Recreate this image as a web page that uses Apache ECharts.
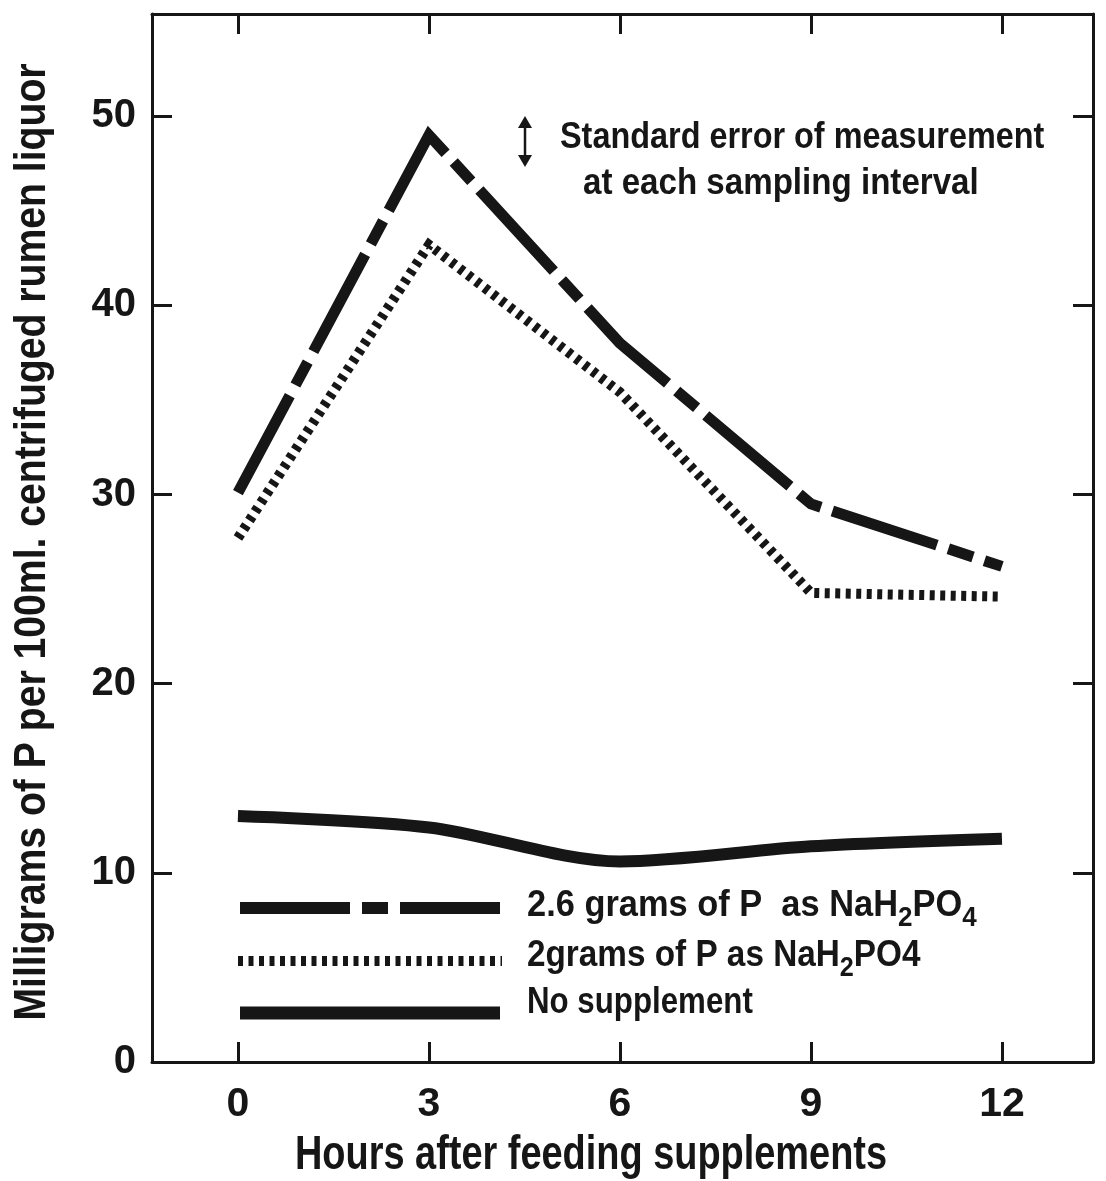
<!DOCTYPE html>
<html>
<head>
<meta charset="utf-8">
<script src="https://cdn.jsdelivr.net/npm/echarts@6/dist/echarts.min.js"></script>
<style>
  html, body { margin: 0; padding: 0; background: #ffffff; }
  #chart { width: 1106px; height: 1181px; }
</style>
</head>
<body>
<div id="chart"></div>
<script>
// Hours after feeding, and P concentration (mg per 100 ml) for each treatment
var hours = [0, 3, 6, 9, 12];
var highDose = [30.1, 49.0, 38.0, 29.5, 26.2];   // 2.6 g P as NaH2PO4
var lowDose = [27.7, 43.2, 35.4, 24.8, 24.6];    // 2 g P as NaH2PO4
var control = [13.0, 12.4, 10.6, 11.4, 11.8];    // no supplement
var xTicks = [0, 3, 6, 9, 12];
var yTicks = [0, 10, 20, 30, 40, 50];

var FONT = "'Liberation Sans', Arial, sans-serif";
var INK = '#161616';

function pairs(xs, ys) {
  return xs.map(function (x, i) { return [x, ys[i]]; });
}

var chart = echarts.init(document.getElementById('chart'), null, { renderer: 'canvas' });

var axisLine = { show: true, onZero: false, lineStyle: { color: INK, width: 3 } };
var tickStyle = { lineStyle: { color: INK, width: 3 } };

// bold sans text squeezed horizontally for a condensed look
function squeezedText(x, y, text, size, scale, align) {
  return {
    type: 'text', x: x, y: y, scaleX: scale, scaleY: 1,
    style: { text: text, fill: INK, font: 'bold ' + size + 'px ' + FONT,
      align: align || 'left', verticalAlign: 'middle' }
  };
}

var subStyle = { fontFamily: FONT, fontWeight: 'bold', fontSize: 28, fill: INK, padding: [24, 0, 0, 0] };

var option = {
  backgroundColor: '#ffffff',
  animation: false,
  grid: { left: 152, right: 13, top: 14, bottom: 119, containLabel: false, outerBoundsMode: 'none' },
  xAxis: [
    {
      type: 'value', position: 'bottom', min: -1.35, max: 13.43,
      axisLine: axisLine,
      axisTick: Object.assign({ show: true, inside: true, length: 20, customValues: xTicks }, tickStyle),
      axisLabel: { show: true, customValues: xTicks, margin: 22, color: INK,
        fontFamily: FONT, fontWeight: 'bold', fontSize: 41 },
      splitLine: { show: false }
    },
    {
      type: 'value', position: 'top', min: -1.35, max: 13.43,
      axisLine: axisLine,
      axisTick: Object.assign({ show: true, inside: true, length: 20, customValues: xTicks }, tickStyle),
      axisLabel: { show: false },
      splitLine: { show: false }
    }
  ],
  yAxis: [
    {
      type: 'value', position: 'left', min: 0, max: 55.4, interval: 10,
      axisLine: axisLine,
      axisTick: Object.assign({ show: true, inside: true, length: 20, customValues: yTicks }, tickStyle),
      axisLabel: { show: true, customValues: yTicks, margin: 16, color: INK,
        fontFamily: FONT, fontWeight: 'bold', fontSize: 40 },
      splitLine: { show: false }
    },
    {
      type: 'value', position: 'right', min: 0, max: 55.4, interval: 10,
      axisLine: axisLine,
      axisTick: Object.assign({ show: true, inside: true, length: 20, customValues: yTicks }, tickStyle),
      axisLabel: { show: false },
      splitLine: { show: false }
    }
  ],
  series: [
    {
      name: '2.6 grams of P as NaH2PO4', type: 'line', xAxisIndex: 0, yAxisIndex: 0,
      data: pairs(hours, highDose), symbol: 'none', smooth: false,
      lineStyle: { color: INK, width: 11, type: [110, 12, 26, 12], cap: 'butt', join: 'miter' }
    },
    {
      name: '2grams of P as NaH2PO4', type: 'line', xAxisIndex: 0, yAxisIndex: 0,
      data: pairs(hours, lowDose), symbol: 'none', smooth: false,
      lineStyle: { color: INK, width: 10, type: [5, 5.5], cap: 'butt', join: 'miter' }
    },
    {
      name: 'No supplement', type: 'line', xAxisIndex: 0, yAxisIndex: 0,
      data: pairs(hours, control), symbol: 'none', smooth: 0.3,
      lineStyle: { color: INK, width: 12, cap: 'butt' }
    }
  ],
  graphic: [
    // axis titles
    squeezedText(591, 1156, 'Hours after feeding supplements', 48, 0.79, 'center'),
    {
      type: 'text', x: 33, y: 542, rotation: Math.PI / 2, scaleX: 0.87, scaleY: 1,
      style: { text: 'Milligrams of P per 100ml. centrifuged rumen liquor', fill: INK,
        font: 'bold 45px ' + FONT, align: 'center', verticalAlign: 'middle' }
    },
    // legend keys
    { type: 'line', shape: { x1: 240, y1: 908, x2: 500, y2: 908 },
      style: { stroke: INK, lineWidth: 12, lineDash: [110, 12, 26, 12], lineCap: 'butt' } },
    { type: 'line', shape: { x1: 238, y1: 961, x2: 502, y2: 961 },
      style: { stroke: INK, lineWidth: 10, lineDash: [5, 5.5], lineCap: 'butt' } },
    { type: 'line', shape: { x1: 240, y1: 1013, x2: 500, y2: 1013 },
      style: { stroke: INK, lineWidth: 13, lineCap: 'butt' } },
    // legend labels
    {
      type: 'text', x: 527, y: 906, scaleX: 0.93, scaleY: 1,
      style: { text: '2.6 grams of P  as NaH{sub|2}PO{sub|4}', fill: INK,
        font: 'bold 37px ' + FONT, align: 'left', verticalAlign: 'middle', rich: { sub: subStyle } }
    },
    {
      type: 'text', x: 527, y: 956, scaleX: 0.9, scaleY: 1,
      style: { text: '2grams of P as NaH{sub|2}PO4', fill: INK,
        font: 'bold 37px ' + FONT, align: 'left', verticalAlign: 'middle', rich: { sub: subStyle } }
    },
    squeezedText(527, 1003, 'No supplement', 37, 0.845),
    // standard error marker
    { type: 'line', shape: { x1: 525, y1: 122, x2: 525, y2: 161 },
      style: { stroke: INK, lineWidth: 2.5 } },
    { type: 'polygon', shape: { points: [[518, 128], [525, 116], [532, 128]] },
      style: { fill: INK } },
    { type: 'polygon', shape: { points: [[518, 155], [525, 167], [532, 155]] },
      style: { fill: INK } },
    squeezedText(560, 138, 'Standard error of measurement', 36, 0.9),
    squeezedText(583, 184, 'at each sampling interval', 36, 0.92)
  ]
};

chart.setOption(option);
</script>
</body>
</html>
